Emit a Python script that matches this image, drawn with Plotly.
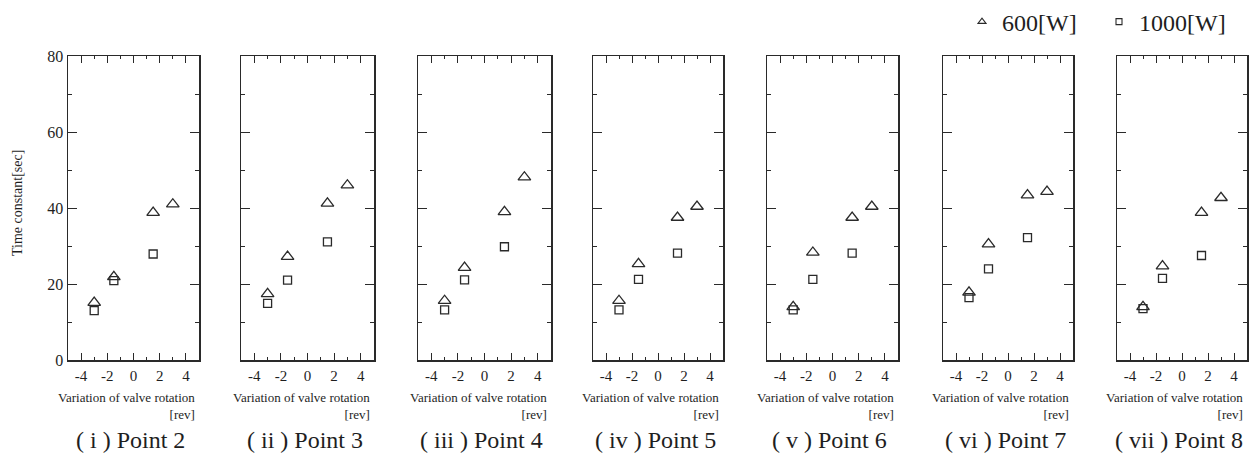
import plotly.graph_objects as go

# ---------------- data ----------------
panel_titles = ["( i ) Point 2", "( ii ) Point 3", "( iii ) Point 4", "( iv ) Point 5",
                "( v ) Point 6", "( vi ) Point 7", "( vii ) Point 8"]

x_600 = [-3, -1.5, 1.5, 3]
x_1000 = [-3, -1.5, 1.5]

w600_point2 = [15.1, 21.9, 38.8, 41.0]
w600_point3 = [17.4, 27.2, 41.2, 46.0]
w600_point4 = [15.6, 24.3, 39.0, 48.1]
w600_point5 = [15.6, 25.3, 37.5, 40.4]
w600_point6 = [14.0, 28.3, 37.5, 40.4]
w600_point7 = [17.8, 30.5, 43.4, 44.3]
w600_point8 = [14.0, 24.7, 38.8, 42.7]

w1000_point2 = [13.0, 20.9, 27.9]
w1000_point3 = [14.9, 21.0, 31.1]
w1000_point4 = [13.2, 21.1, 29.8]
w1000_point5 = [13.2, 21.2, 28.1]
w1000_point6 = [13.2, 21.2, 28.1]
w1000_point7 = [16.4, 24.0, 32.2]
w1000_point8 = [13.5, 21.5, 27.5]

x_tick_vals = [-4, -2, 0, 2, 4]
y_tick_vals = [0, 20, 40, 60, 80]

series_600 = [w600_point2, w600_point3, w600_point4, w600_point5,
              w600_point6, w600_point7, w600_point8]
series_1000 = [w1000_point2, w1000_point3, w1000_point4, w1000_point5,
               w1000_point6, w1000_point7, w1000_point8]

# ---------------- layout geometry ----------------
W, H = 1258, 457
panels_px = [(68, 199), (241, 374), (418, 551), (593, 723), (767, 898), (943, 1073), (1117, 1247)]
top_px, bottom_px = 56, 360
FONT = "Liberation Serif"
TXT = "#1e1e1e"
LINE = "#2a2a2a"

def py(p):
    return 1 - p / H

fig = go.Figure()
layout = dict(
    width=W, height=H,
    margin=dict(l=0, r=0, t=0, b=0, pad=0, autoexpand=False),
    paper_bgcolor="white", plot_bgcolor="white",
    font=dict(family=FONT, color=TXT),
    showlegend=True,
    legend=dict(orientation="h", x=(982 - 20) / W, xanchor="left", y=py(22), yanchor="middle",
                font=dict(size=24, family=FONT, color=TXT), bgcolor="rgba(0,0,0,0)",
                entrywidth=92, entrywidthmode="pixels",
                itemclick=False),
)

annotations = []
for i, (l, r) in enumerate(panels_px):
    xs = "x" if i == 0 else f"x{i+1}"
    ys = "y" if i == 0 else f"y{i+1}"
    fig.add_trace(go.Scatter(x=x_600, y=series_600[i], mode="markers", xaxis=xs, yaxis=ys,
                             marker=dict(symbol="triangle-up-open", size=11, color=LINE,
                                         line=dict(width=1.3, color=LINE)),
                             showlegend=False, hoverinfo="skip"))
    fig.add_trace(go.Scatter(x=x_1000, y=series_1000[i], mode="markers", xaxis=xs, yaxis=ys,
                             marker=dict(symbol="square-open", size=8, color=LINE,
                                         line=dict(width=1.3, color=LINE)),
                             showlegend=False, hoverinfo="skip"))
    xa = "xaxis" if i == 0 else f"xaxis{i+1}"
    ya = "yaxis" if i == 0 else f"yaxis{i+1}"
    layout[xa] = dict(domain=[l / W, r / W], anchor=ys, range=[-5, 5], automargin=False,
                      tickvals=x_tick_vals, ticktext=[str(v) for v in x_tick_vals],
                      ticks="inside", ticklen=7, tickwidth=1, tickcolor=LINE,
                      minor=dict(tickvals=[-3, -1, 1, 3], ticks="inside", ticklen=3, tickcolor=LINE),
                      showline=True, linewidth=1.5, linecolor=LINE, mirror="ticks",
                      showgrid=False, zeroline=False, fixedrange=True,
                      ticklabelstandoff=1,
                      tickfont=dict(size=15, family=FONT, color=TXT))
    layout[ya] = dict(domain=[py(bottom_px), py(top_px)], anchor=xs, range=[0, 80], automargin=False,
                      tickvals=y_tick_vals, ticks="inside", ticklen=9, tickwidth=1, tickcolor=LINE,
                      minor=dict(tickvals=[10, 30, 50, 70], ticks="inside", ticklen=4, tickcolor=LINE),
                      showline=True, linewidth=1.5, linecolor=LINE, mirror="ticks",
                      showgrid=False, zeroline=False, fixedrange=True,
                      showticklabels=(i == 0),
                      tickfont=dict(size=16, family=FONT, color=TXT))
    annotations.append(dict(text="Variation of valve rotation<br>[rev]", x=(r - 3) / W, y=py(406),
                            xref="paper", yref="paper", xanchor="right", yanchor="middle",
                            align="right", showarrow=False, borderpad=0,
                            font=dict(size=13, family=FONT, color=TXT)))
    annotations.append(dict(text=panel_titles[i], x=((l + r) / 2 - 3) / W, y=py(440),
                            xref="paper", yref="paper", xanchor="center", yanchor="middle",
                            showarrow=False, font=dict(size=24, family=FONT, color=TXT)))

annotations.append(dict(text="Time constant[sec]", x=18 / W, y=py(203), textangle=-90,
                        xref="paper", yref="paper", xanchor="center", yanchor="middle",
                        showarrow=False, font=dict(size=14, family=FONT, color=TXT)))

# legend-only entries
fig.add_trace(go.Scatter(x=[None], y=[None], mode="markers", name="600[W]",
                         marker=dict(symbol="triangle-up-open", size=7, color=LINE,
                                     line=dict(width=1.1, color=LINE))))
fig.add_trace(go.Scatter(x=[None], y=[None], mode="markers", name="1000[W]",
                         marker=dict(symbol="square-open", size=6, color=LINE,
                                     line=dict(width=1.1, color=LINE))))

layout["annotations"] = annotations
fig.update_layout(**layout)
fig.write_html("out.html", config={"displayModeBar": False, "staticPlot": True},
               post_script="document.body.style.margin='0';document.body.style.overflow='hidden';")
